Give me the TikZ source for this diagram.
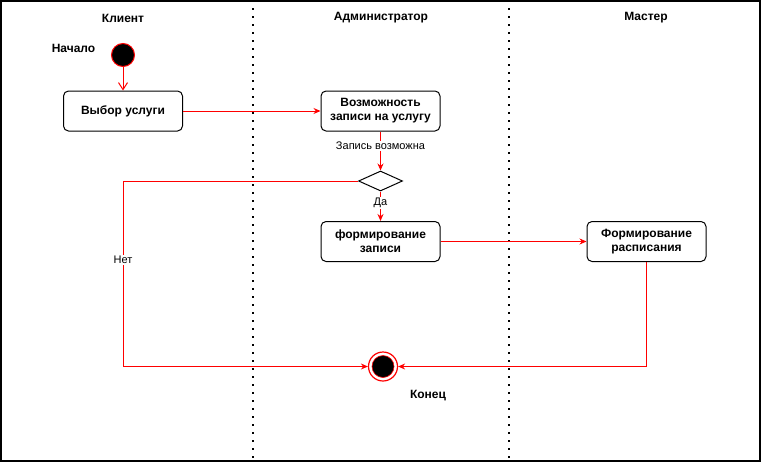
\documentclass[tikz,border=0pt]{standalone}
\usepackage{fontspec}
\setmainfont{Liberation Sans}
\usetikzlibrary{arrows.meta,shapes.geometric}
\begin{document}
\begin{tikzpicture}[x=1pt,y=-1pt,
  box/.style={draw, line width=1pt, rounded corners=5pt, minimum width=119pt, minimum height=40pt, align=center, font=\fontsize{12}{14}\selectfont\bfseries, inner sep=0pt},
  flow/.style={draw=red, line width=1pt, -{Stealth[length=7pt,width=6pt]}},
  lbl/.style={font=\fontsize{11}{13}\selectfont, fill=white, inner sep=1pt},
  hdr/.style={font=\fontsize{12}{14}\selectfont\bfseries},
  lane/.style={line width=2pt, dash pattern=on 2pt off 6pt}]
\useasboundingbox (0,0) rectangle (762,463);
\draw[line width=1.5pt] (1,1) rectangle (760,461);
\draw[lane] (253,0) -- (253,463);
\draw[lane] (509,0) -- (509,463);
\node[hdr] (h1) at (123,18) {Клиент};
\node[hdr] (h2) at (381,18) {Администратор};
\node[hdr] (h3) at (646,18) {Мастер};
\node[circle, fill=black, draw=red, line width=1pt, minimum size=23pt, inner sep=0pt] (start) at (123,55) {};
\node[hdr] (startlbl) at (73.5,48) {Начало};
\node[box] (choice) at (123,111) {Выбор услуги};
\node[box] (check) at (380.5,111) {Возможность\\записи на услугу};
\node[diamond, draw, line width=1pt, minimum width=44pt, minimum height=20pt, inner sep=0pt] (dec) at (380.5,181) {};
\node[box] (form) at (380.5,241.5) {формирование\\записи};
\node[box] (sched) at (646.5,241.5) {Формирование\\расписания};
\node[circle, draw=red, fill=white, line width=1.2pt, minimum size=29pt, inner sep=0pt] (end) at (383,366.5) {};
\node[circle, draw=red, fill=black, line width=0.6pt, minimum size=22pt, inner sep=0pt] (endin) at (end.center) {};
\node[hdr] (endlbl) at (428,395.5) {Конец};
\draw[draw=red, line width=1pt, -{Straight Barb[length=7pt,width=9pt]}] (start) -- (choice);
\draw[flow] (choice) -- (check);
\draw[flow] (check) -- node[lbl, pos=0.37] {Запись возможна} (dec);
\draw[flow] (dec) -- node[lbl, pos=0.4] {Да} (form);
\draw[flow] (form) -- (sched);
\coordinate (c1) at (123,181);
\coordinate (c2) at (123,366.5);
\draw[flow] (dec.west) -- (c1) -- node[lbl, pos=0.425] {Нет} (c2) -- (end.west);
\draw[flow] (sched.south) |- (end.east);
\end{tikzpicture}
\end{document}
